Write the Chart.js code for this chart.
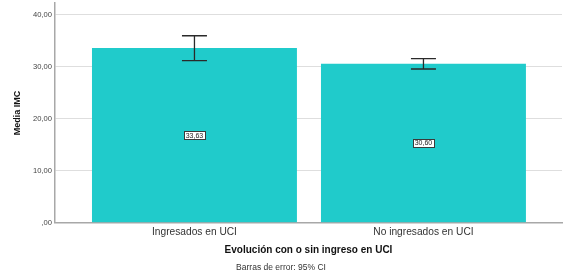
<!DOCTYPE html>
<html>
<head>
<meta charset="utf-8">
<script src="https://cdn.jsdelivr.net/npm/chart.js@4.4.1/dist/chart.umd.min.js"></script>
<style>
  html, body { margin: 0; padding: 0; background: #ffffff; }
  #wrap { width: 576px; height: 277px; position: relative; }
</style>
</head>
<body>
<div id="wrap"><canvas id="c" width="576" height="277"></canvas></div>
<script>
// ---- data ----
const categories = ['Ingresados en UCI', 'No ingresados en UCI'];
const means = [33.63, 30.60];
const ciLow = [31.2, 29.6];
const ciHigh = [36.0, 31.6];
const yTicks = [0, 10, 20, 30, 40];

const FONT = "'Liberation Sans', Arial, sans-serif";
const fmt = v => v === 0 ? ',00' : v.toFixed(2).replace('.', ',');

const errorBars = {
  id: 'errorBars',
  afterDatasetsDraw(chart) {
    const ctx = chart.ctx;
    const y = chart.scales.y;
    const meta = chart.getDatasetMeta(0);
    ctx.save();
    ctx.strokeStyle = '#2a2a2a';
    ctx.lineWidth = 1.3;
    meta.data.forEach((bar, i) => {
      const x = bar.x;
      const half = bar.width * 0.061;
      const yl = y.getPixelForValue(ciLow[i]);
      const yh = y.getPixelForValue(ciHigh[i]);
      ctx.beginPath();
      ctx.moveTo(x, yl); ctx.lineTo(x, yh);
      ctx.moveTo(x - half, yl); ctx.lineTo(x + half, yl);
      ctx.moveTo(x - half, yh); ctx.lineTo(x + half, yh);
      ctx.stroke();
    });
    // value labels
    ctx.font = '7px ' + FONT;
    ctx.textAlign = 'center';
    ctx.textBaseline = 'middle';
    meta.data.forEach((bar, i) => {
      const txt = fmt(means[i]);
      const cx = bar.x;
      const cy = (bar.y + bar.base) / 2;
      const w = ctx.measureText(txt).width + 3;
      const h = 8;
      ctx.fillStyle = '#ffffff';
      ctx.fillRect(Math.round(cx - w / 2) + 0.5, Math.round(cy - h / 2) + 0.5, Math.round(w), h);
      ctx.strokeStyle = '#3a3a3a';
      ctx.lineWidth = 1;
      ctx.strokeRect(Math.round(cx - w / 2) + 0.5, Math.round(cy - h / 2) + 0.5, Math.round(w), h);
      ctx.fillStyle = '#222222';
      ctx.fillText(txt, cx, cy + 0.5);
    });
    ctx.restore();
  }
};

new Chart(document.getElementById('c'), {
  type: 'bar',
  data: {
    datasets: [{
      data: categories.map((c, i) => ({ x: i, y: means[i] })),
      backgroundColor: '#20cbcb',
      borderWidth: 0,
      barPercentage: 0.895,
      categoryPercentage: 1.0
    }]
  },
  options: {
    responsive: false,
    animation: false,
    layout: { padding: { top: 3, right: 14, left: 0, bottom: 0 } },
    plugins: {
      legend: { display: false },
      tooltip: { enabled: false },
      title: {
        display: true,
        position: 'bottom',
        text: 'Barras de error: 95% CI',
        color: '#333333',
        font: { family: FONT, size: 8.5, weight: 'normal' },
        padding: { top: 4, bottom: 4 }
      }
    },
    scales: {
      x: {
        type: 'linear',
        offset: false,
        min: -0.609,
        max: 1.605,
        afterBuildTicks: s => { s.ticks = categories.map((c, i) => ({ value: i })); },
        afterFit: s => { s.height = 36; s.paddingLeft = 0; s.paddingRight = 0; },
        grid: { display: false, drawTicks: false, offset: false },
        border: { display: true, color: '#a8a8a8', width: 1.5 },
        ticks: {
          callback: v => categories[v],
          color: '#333333',
          font: { family: FONT, size: 10.2 },
          padding: 3,
          maxRotation: 0
        },
        title: {
          display: true,
          text: 'Evolución con o sin ingreso en UCI',
          color: '#111111',
          font: { family: FONT, size: 10, weight: 'bold' },
          padding: { top: 0, bottom: 3 }
        }
      },
      y: {
        min: 0,
        max: 42.3,
        afterBuildTicks: s => { s.ticks = yTicks.map(v => ({ value: v })); },
        afterFit: s => { s.width = 55; s.paddingTop = 0; s.paddingBottom = 0; },
        grid: { color: '#dedede', lineWidth: 1, drawTicks: false },
        border: { display: true, color: '#a8a8a8', width: 1.5 },
        ticks: {
          callback: v => fmt(v),
          color: '#444444',
          font: { family: FONT, size: 7.6 },
          padding: 3
        },
        title: {
          display: true,
          text: 'Media IMC',
          color: '#111111',
          font: { family: FONT, size: 9, weight: 'bold' },
          padding: { top: 12.6, bottom: 0 }
        }
      }
    }
  },
  plugins: [errorBars]
});
</script>
</body>
</html>
